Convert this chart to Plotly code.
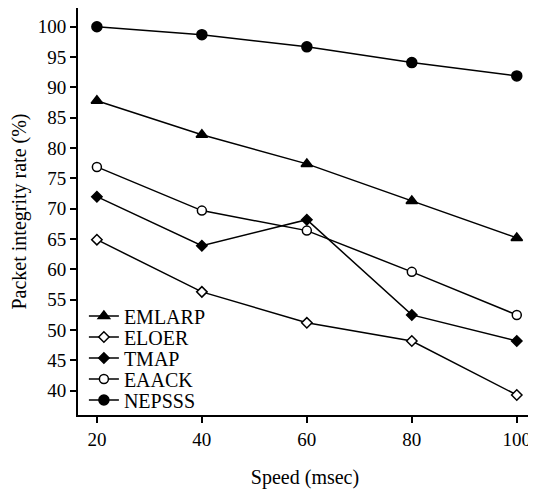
import plotly.graph_objects as go

speed = [20, 40, 60, 80, 100]
emlarp = [87.8, 82.2, 77.4, 71.3, 65.2]
eloer = [64.9, 56.3, 51.2, 48.2, 39.3]
tmap = [72.0, 63.9, 68.2, 52.5, 48.2]
eaack = [76.9, 69.7, 66.4, 59.6, 52.5]
nepsss = [100.0, 98.7, 96.7, 94.1, 91.9]

y_ticks = [40, 45, 50, 55, 60, 65, 70, 75, 80, 85, 90, 95, 100]
x_ticks = [20, 40, 60, 80, 100]

series = [
    ("EMLARP", emlarp, "triangle-up", "black", 10),
    ("ELOER", eloer, "diamond", "white", 8),
    ("TMAP", tmap, "diamond", "black", 8),
    ("EAACK", eaack, "circle", "white", 9),
    ("NEPSSS", nepsss, "circle", "black", 10),
]
legend_rows = [0.2432, 0.1916, 0.14, 0.0884, 0.0368]

font = "Liberation Serif, DejaVu Serif, serif"
fig = go.Figure()
legend_layout = {}
for i, ((name, vals, sym, fill, size), ly) in enumerate(zip(series, legend_rows)):
    lname = "legend" if i == 0 else f"legend{i + 1}"
    fig.add_trace(go.Scatter(
        x=speed, y=vals, name=name, mode="lines+markers",
        line=dict(color="black", width=1.5),
        marker=dict(symbol=sym, size=size, color=fill,
                    line=dict(color="black", width=1.5)),
        legend=lname,
    ))
    legend_layout[lname] = dict(
        x=0.013, y=ly, xanchor="left", yanchor="middle",
        bgcolor="rgba(0,0,0,0)", font=dict(family=font, size=20, color="black"),
        itemwidth=30,
    )

fig.update_layout(
    width=528, height=481,
    margin=dict(l=70, r=4, t=0, b=74),
    plot_bgcolor="white", paper_bgcolor="white",
    font=dict(family=font, size=19, color="black"),
    showlegend=True,
    xaxis=dict(range=[16.4, 102.9], tickvals=x_ticks, showgrid=False,
               zeroline=False, showline=True, linecolor="black", linewidth=2,
               ticks="outside", ticklen=6, tickwidth=2, tickcolor="black",
               tickfont=dict(size=19),
               title=dict(text="Speed (msec)", standoff=24, font=dict(size=20))),
    yaxis=dict(range=[36.0, 103.1], tickvals=y_ticks, showgrid=False,
               zeroline=False, showline=True, linecolor="black", linewidth=2,
               ticks="outside", ticklen=6, tickwidth=2, tickcolor="black",
               tickfont=dict(size=19),
               title=dict(text="Packet integrity rate (%)", standoff=13, font=dict(size=20))),
    **legend_layout,
)
fig.write_html("out.html")
